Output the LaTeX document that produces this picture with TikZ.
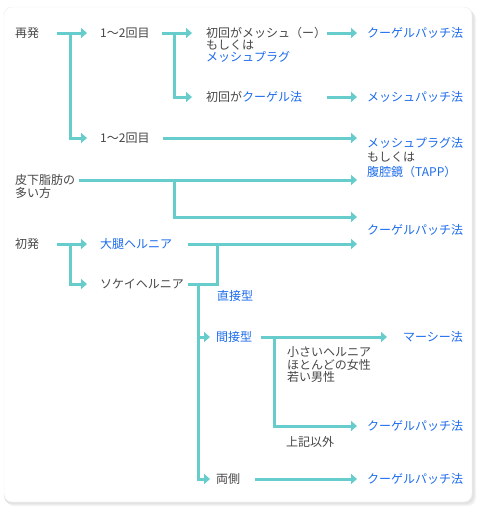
\documentclass[tikz,border=0pt]{standalone}
\usepackage{fontspec}
\setmainfont{Noto Sans CJK JP}
\usetikzlibrary{arrows.meta}
\definecolor{flowline}{RGB}{102,204,204}
\definecolor{linkblue}{RGB}{28,108,238}
\definecolor{txtgray}{RGB}{70,70,70}

\begin{document}
\begin{tikzpicture}[x=1pt,y=-1pt,
  txt/.style={anchor=west, inner sep=0pt, text=txtgray, align=left,
    font=\fontsize{12}{12.5}\selectfont},
  link/.style={txt, text=linkblue},
  flow/.style={line width=3pt, draw=flowline},
  go/.style={flow, -{Triangle[width=10pt,length=6pt]}}]

\useasboundingbox (0,0) rectangle (480,515);

% Card with a soft shadow
\foreach \s/\c in {4/4, 3/7, 2/11}
{
    \fill[black!\c, rounded corners=8pt] (4+\s-2,7+\s) rectangle (472+\s,502+\s);
}
\draw[black!7, fill=white, rounded corners=8pt] (4,7) rectangle (472,502);

% Left column
\node[txt] (saihatsu) at (15,33) {再発};
\node[txt] (kaisuA) at (100,33) {1〜2回目};
\node[txt] (kaisuB) at (100,138) {1〜2回目};
\node[txt] (hika) at (15,180) {皮下脂肪の};
\node[txt] (hikaB) at (15,193) {多い方};
\node[txt] (shohatsu) at (15,244) {初発};
\node[link] (daitai) at (100,244) {大腿ヘルニア};
\node[txt] (sokei) at (100,284) {ソケイヘルニア};

% Middle column
\node[txt] (meshfirst) at (206,33) {初回がメッシュ（ー）};
\node[txt] (moshiku) at (206,45) {もしくは};
\node[link] (plug) at (206,57) {メッシュプラグ};
\node[txt] (kugelfirst) at (206,97) {初回が\textcolor{linkblue}{クーゲル法}};
\node[link] (chokusetsu) at (217,296) {直接型};
\node[link] (kansetsu) at (216,337) {間接型};
\node[txt] (ryosoku) at (216,479) {両側};
\node[txt] (small) at (287,365) {小さいヘルニア\\ほとんどの女性\\若い男性};
\node[txt] (others) at (286,442) {上記以外};

% Right column
\node[link] (kugelA) at (367,33) {クーゲルパッチ法};
\node[link] (meshpatch) at (367,97) {メッシュパッチ法};
\node[link] (plugtapp) at (367,157.5) {メッシュプラグ法\\[2pt]\textcolor{txtgray}{もしくは}\\[2pt]腹腔鏡（TAPP）};
\node[link] (kugelB) at (367,230) {クーゲルパッチ法};
\node[link] (marcy) at (403,337) {マーシー法};
\node[link] (kugelC) at (367,426) {クーゲルパッチ法};
\node[link] (kugelD) at (367,479) {クーゲルパッチ法};

\coordinate (tip) at ([xshift=-10pt]kugelA.west);

% Recurrence
\draw[go] ([xshift=42pt]saihatsu.west) -- ([xshift=-13pt]kaisuA.west);
\coordinate (forkA) at ([xshift=55pt]saihatsu.west);
\draw[go] (forkA) |- ([xshift=-13pt]kaisuB.west);
\draw[go] ([xshift=62pt]kaisuA.west) -- ([xshift=-14pt]meshfirst.west);
\coordinate (forkB) at ([xshift=74pt]kaisuA.west);
\draw[go] (forkB) |- ([xshift=-14pt]kugelfirst.west);
\draw[go] ([xshift=121pt]meshfirst.west) -- (kugelA -| tip);
\draw[go] ([xshift=121pt]kugelfirst.west) -- (meshpatch -| tip);
\draw[go] ([xshift=63pt]kaisuB.west) -- (kaisuB -| tip);

% Much subcutaneous fat
\draw[go] ([xshift=64pt]hika.west) -- (hika -| tip);
\coordinate (forkC) at ([xshift=159pt]hika.west);
\draw[go] (forkC) |- ([yshift=13pt]kugelB.west -| tip);

% First occurrence
\draw[go] ([xshift=42pt]shohatsu.west) -- ([xshift=-13pt]daitai.west);
\coordinate (forkD) at ([xshift=55pt]shohatsu.west);
\draw[go] (forkD) |- ([xshift=-13pt]sokei.west);
\draw[go] ([xshift=88pt]daitai.west) -- (daitai -| tip);
\coordinate (forkE) at ([xshift=117pt]daitai.west);
\draw[flow] ([xshift=88pt]sokei.west) -| (forkE);
\coordinate (forkF) at ([xshift=98pt]sokei.west);
\draw[go] (forkF) |- ([xshift=-6pt]ryosoku.west);
\draw[go] (forkF |- kansetsu) -- ([xshift=-6pt]kansetsu.west);

% Indirect type
\draw[go] ([xshift=45pt]kansetsu.west) -- ([xshift=-16pt]marcy.west);
\coordinate (forkG) at ([xshift=58pt]kansetsu.west);
\draw[go] (forkG) |- (kugelC -| tip);

% Both sides
\draw[go] ([xshift=39pt]ryosoku.west) -- (kugelD -| tip);
\end{tikzpicture}
\end{document}
